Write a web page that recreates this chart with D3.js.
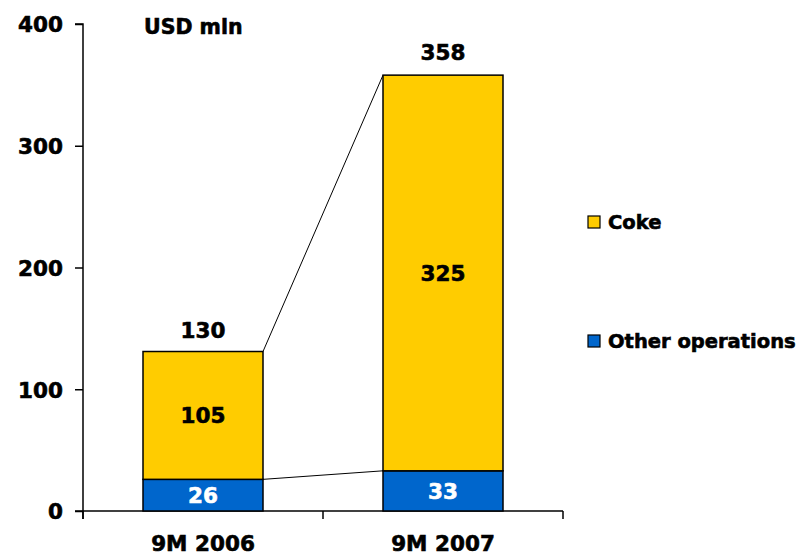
<!DOCTYPE html>
<html>
<head>
<meta charset="utf-8">
<script src="https://cdn.jsdelivr.net/npm/d3@7"></script>
<style>
  html, body { margin: 0; padding: 0; background: #fff; }
  svg text { font-family: "DejaVu Sans", Verdana, sans-serif; font-weight: bold; stroke-width: 0.6px; }
</style>
</head>
<body>
<svg id="chart" width="803" height="556"></svg>
<script>
// Revenue by segment, USD mln
const periods = ["9M 2006", "9M 2007"];
const otherOps = [26, 33];
const coke = [105, 325];
const totals = [130, 358];
const yTicks = [0, 100, 200, 300, 400];
const seriesNames = ["Coke", "Other operations"];
const seriesColors = ["#FFCC00", "#0066CC"];

const svg = d3.select("#chart");
const x0 = 83, x1 = 563, yTop = 24, yBottom = 511;

const x = d3.scaleBand().domain(periods).range([x0, x1]).paddingInner(0.5).paddingOuter(0.25);
const y = d3.scaleLinear().domain([0, 400]).range([yBottom, yTop]);

// y axis
const yAxis = svg.append("g").attr("transform", `translate(${x0},0)`)
  .call(d3.axisLeft(y).tickValues(yTicks).tickSize(8).tickPadding(12).tickFormat(d3.format("d")));
yAxis.select(".domain").attr("stroke", "#000").attr("stroke-width", 1.5).attr("d", `M-8,${yTop}H0V${yBottom + 8}`);
yAxis.selectAll(".tick line").attr("stroke", "#000").attr("stroke-width", 1.5);
yAxis.selectAll(".tick text").attr("fill", "#000").attr("stroke", "#000")
  .style("font-size", "21.5px").attr("dy", "0.36em");

// x axis: ticks at band boundaries, labels under band centres
const xAxisG = svg.append("g").attr("transform", `translate(0,${yBottom})`);
xAxisG.append("line").attr("x1", x0 - 8).attr("x2", x1).attr("y1", 0).attr("y2", 0)
  .attr("stroke", "#000").attr("stroke-width", 1.5);
const bounds = [x0, (x0 + x1) / 2, x1];
xAxisG.selectAll("line.tk").data(bounds).join("line").attr("class", "tk")
  .attr("x1", d => d).attr("x2", d => d).attr("y1", 0).attr("y2", 8)
  .attr("stroke", "#000").attr("stroke-width", 1.5);
xAxisG.selectAll("text").data(periods).join("text")
  .attr("x", d => x(d) + x.bandwidth() / 2).attr("y", 40)
  .attr("text-anchor", "middle").attr("fill", "#000").attr("stroke", "#000")
  .style("font-size", "21.5px").text(d => d);

// stacked bars
const rows = periods.map((p, i) => ({ period: p, other: otherOps[i], coke: coke[i], total: totals[i] }));
const stack = d3.stack().keys(["other", "coke"])(rows);
const colorByKey = { other: seriesColors[1], coke: seriesColors[0] };

// connector lines between the bars
const bw = x.bandwidth();
const connectors = [
  [rows[0].other, rows[1].other],
  [rows[0].other + rows[0].coke, rows[1].other + rows[1].coke]
];
svg.append("g").selectAll("line").data(connectors).join("line")
  .attr("x1", x(periods[0]) + bw).attr("x2", x(periods[1]))
  .attr("y1", d => y(d[0])).attr("y2", d => y(d[1]))
  .attr("stroke", "#000").attr("stroke-width", 1);

stack.forEach(layer => {
  const g = svg.append("g");
  const ink = layer.key === "other" ? "#fff" : "#000";
  g.selectAll("rect").data(layer).join("rect")
    .attr("x", d => x(d.data.period)).attr("width", bw)
    .attr("y", d => y(d[1])).attr("height", d => y(d[0]) - y(d[1]))
    .attr("fill", colorByKey[layer.key]).attr("stroke", "#000").attr("stroke-width", 1.5);
  g.selectAll("text").data(layer).join("text")
    .attr("x", d => x(d.data.period) + bw / 2)
    .attr("y", d => (y(d[0]) + y(d[1])) / 2).attr("dy", "0.36em")
    .attr("text-anchor", "middle").style("font-size", "21.5px")
    .attr("fill", ink).attr("stroke", ink)
    .text(d => d.data[layer.key]);
});

// totals above the stacks
svg.append("g").selectAll("text").data(rows).join("text")
  .attr("x", d => x(d.period) + bw / 2).attr("y", d => y(d.total) - 15)
  .attr("text-anchor", "middle").attr("fill", "#000").attr("stroke", "#000")
  .style("font-size", "21.5px").text(d => d.total);

// unit label
svg.append("text").attr("x", 144).attr("y", 34).attr("fill", "#000").attr("stroke", "#000")
  .style("font-size", "20.5px").text("USD mln");

// legend
const legendY = [222, 341];
const lg = svg.append("g").selectAll("g").data(seriesNames).join("g")
  .attr("transform", (d, i) => `translate(588,${legendY[i]})`);
lg.append("rect").attr("x", 0).attr("y", -6).attr("width", 12).attr("height", 12)
  .attr("fill", (d, i) => seriesColors[i]).attr("stroke", "#000").attr("stroke-width", 1.2);
lg.append("text").attr("x", 20).attr("y", 0).attr("dy", "0.36em")
  .attr("fill", "#000").attr("stroke", "#000")
  .style("font-size", "19.5px").text(d => d);
</script>
</body>
</html>
